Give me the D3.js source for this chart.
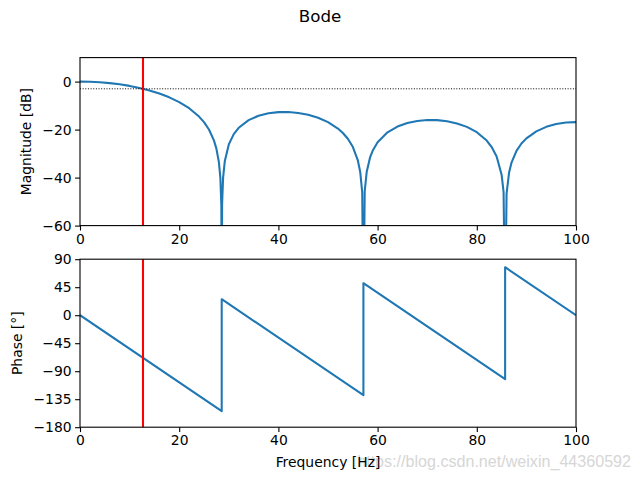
<!DOCTYPE html>
<html><head><meta charset="utf-8">
<script src="https://cdn.jsdelivr.net/npm/d3@7"></script>
<style>body{margin:0;background:#fff}svg{display:block}text{font-family:"DejaVu Sans",sans-serif}</style>
</head><body><svg id="c" width="640" height="480"></svg>
<script>
// Magnitude response (Hz, dB)
const magFreq = [0,2,4,6,8,10,12,14,16,18,20,22,24,25,26,27,27.5,28,28.3,28.5,28.57,28.65,28.85,29.2,30,31,32,34,36,38,40,42,44,46,48,50,52,53,54,55,56,56.5,56.9,57.14,57.4,57.8,58.5,59,60,62,64,66,68,70,72,74,76,78,80,82,83,84,85,85.4,85.71,86,86.5,87,88,89,90,92,94,96,98,100];
const magDb = [0,-0.07,-0.28,-0.63,-1.13,-1.79,-2.63,-3.68,-4.97,-6.56,-8.54,-11.09,-14.57,-16.9,-19.97,-24.48,-27.94,-33.53,-40.08,-51.73,-100,-50.94,-40.0,-33.04,-26.16,-21.88,-19.24,-16.04,-14.23,-13.2,-12.72,-12.69,-13.06,-13.84,-15.08,-16.9,-19.57,-21.41,-23.81,-27.16,-32.68,-37.71,-46.21,-100,-45.77,-37.67,-31.46,-28.82,-25.26,-21.12,-18.72,-17.25,-16.38,-16.01,-16.05,-16.51,-17.42,-18.87,-21.08,-24.57,-27.27,-31.17,-38.77,-45.91,-100,-46.75,-37.99,-33.74,-28.83,-25.8,-23.65,-20.74,-18.86,-17.67,-17.05,-16.9];
// Phase response (Hz, degrees)
const phaseFreq = [0,28.57,28.57,57.14,57.14,85.71,85.71,100];
const phaseDeg = [0,-154.3,25.7,-128.6,51.4,-102.9,77.1,0];
const cutoffHz = 12.7;
const refDb = -3;
const magTicks = [-60,-40,-20,0];
const phaseTicks = [-180,-135,-90,-45,0,45,90];
const freqTicks = [0,20,40,60,80,100];

const svg = d3.select("#c");
const L = 80, R = 576;
const top1 = 57.6, bot1 = 225.6, top2 = 259.2, bot2 = 427.2;
const x = d3.scaleLinear().domain([0,100]).range([L,R]);
const yM = d3.scaleLinear().domain([-60,10]).range([bot1,top1]);
const yP = d3.scaleLinear().domain([-180,90]).range([bot2,top2]);
const blue = "#1f77b4";

svg.append("text").attr("x",320).attr("y",22).attr("text-anchor","middle")
  .style("font-size","16.7px").text("Bode");

const defs = svg.append("defs");
defs.append("clipPath").attr("id","cp1").append("rect").attr("x",L).attr("y",top1).attr("width",R-L).attr("height",bot1-top1);
defs.append("clipPath").attr("id","cp2").append("rect").attr("x",L).attr("y",top2).attr("width",R-L).attr("height",bot2-top2);

function styleAxis(g){
  g.selectAll(".domain").remove();
  g.selectAll(".tick line").attr("stroke","#000").attr("stroke-width",1.1);
  g.selectAll(".tick text").style("font-size","13.9px").attr("fill","#000").style("font-family","DejaVu Sans");
}

// ---- Magnitude panel
const g1 = svg.append("g");
const mag = magFreq.map((f,i)=>[f,magDb[i]]);
g1.append("g").attr("clip-path","url(#cp1)").append("path").datum(mag)
  .attr("d", d3.line().x(d=>x(d[0])).y(d=>yM(d[1])))
  .attr("fill","none").attr("stroke",blue).attr("stroke-width",2.08).attr("stroke-linejoin","round");
g1.append("line").attr("x1",x(0)).attr("x2",x(100)).attr("y1",yM(refDb)).attr("y2",yM(refDb))
  .attr("stroke","#000").attr("stroke-width",1).attr("stroke-dasharray","1,1.65");
g1.append("line").attr("x1",x(cutoffHz)).attr("x2",x(cutoffHz)).attr("y1",top1).attr("y2",bot1)
  .attr("stroke","red").attr("stroke-width",2.08);
g1.append("g").attr("transform",`translate(0,${bot1})`)
  .call(d3.axisBottom(x).tickValues(freqTicks).tickSize(4.9).tickPadding(3.5).tickFormat(d3.format("d"))).call(styleAxis);
g1.append("g").attr("transform",`translate(${L},0)`)
  .call(d3.axisLeft(yM).tickValues(magTicks).tickSize(4.9).tickPadding(3.5).tickFormat(d3.format("d"))).call(styleAxis);
g1.append("rect").attr("x",L).attr("y",top1).attr("width",R-L).attr("height",bot1-top1)
  .attr("fill","none").attr("stroke","#000").attr("stroke-width",1.1);
g1.append("text").attr("transform",`translate(31,${(top1+bot1)/2}) rotate(-90)`).attr("text-anchor","middle")
  .style("font-size","13.9px").text("Magnitude [dB]");

// ---- Phase panel
const g2 = svg.append("g");
const ph = phaseFreq.map((f,i)=>[f,phaseDeg[i]]);
g2.append("g").attr("clip-path","url(#cp2)").append("path").datum(ph)
  .attr("d", d3.line().x(d=>x(d[0])).y(d=>yP(d[1])))
  .attr("fill","none").attr("stroke",blue).attr("stroke-width",2.08).attr("stroke-linejoin","round");
g2.append("line").attr("x1",x(cutoffHz)).attr("x2",x(cutoffHz)).attr("y1",top2).attr("y2",bot2)
  .attr("stroke","red").attr("stroke-width",2.08);
g2.append("g").attr("transform",`translate(0,${bot2})`)
  .call(d3.axisBottom(x).tickValues(freqTicks).tickSize(4.9).tickPadding(3.5).tickFormat(d3.format("d"))).call(styleAxis);
g2.append("g").attr("transform",`translate(${L},0)`)
  .call(d3.axisLeft(yP).tickValues(phaseTicks).tickSize(4.9).tickPadding(3.5).tickFormat(d3.format("d"))).call(styleAxis);
g2.append("rect").attr("x",L).attr("y",top2).attr("width",R-L).attr("height",bot2-top2)
  .attr("fill","none").attr("stroke","#000").attr("stroke-width",1.1);
g2.append("text").attr("transform",`translate(22,${(top2+bot2)/2}) rotate(-90)`).attr("text-anchor","middle")
  .style("font-size","13.9px").text("Phase [°]");

// watermark then x label
svg.append("text").attr("x",631).attr("y",467).attr("text-anchor","end")
  .style("font-family","'Liberation Sans',Arial,sans-serif").style("font-size","16.1px")
  .attr("fill","#d6d6d6").text("https://blog.csdn.net/weixin_44360592");
svg.append("text").attr("x",328).attr("y",467).attr("text-anchor","middle")
  .style("font-size","13.9px").text("Frequency [Hz]");
</script></body></html>
